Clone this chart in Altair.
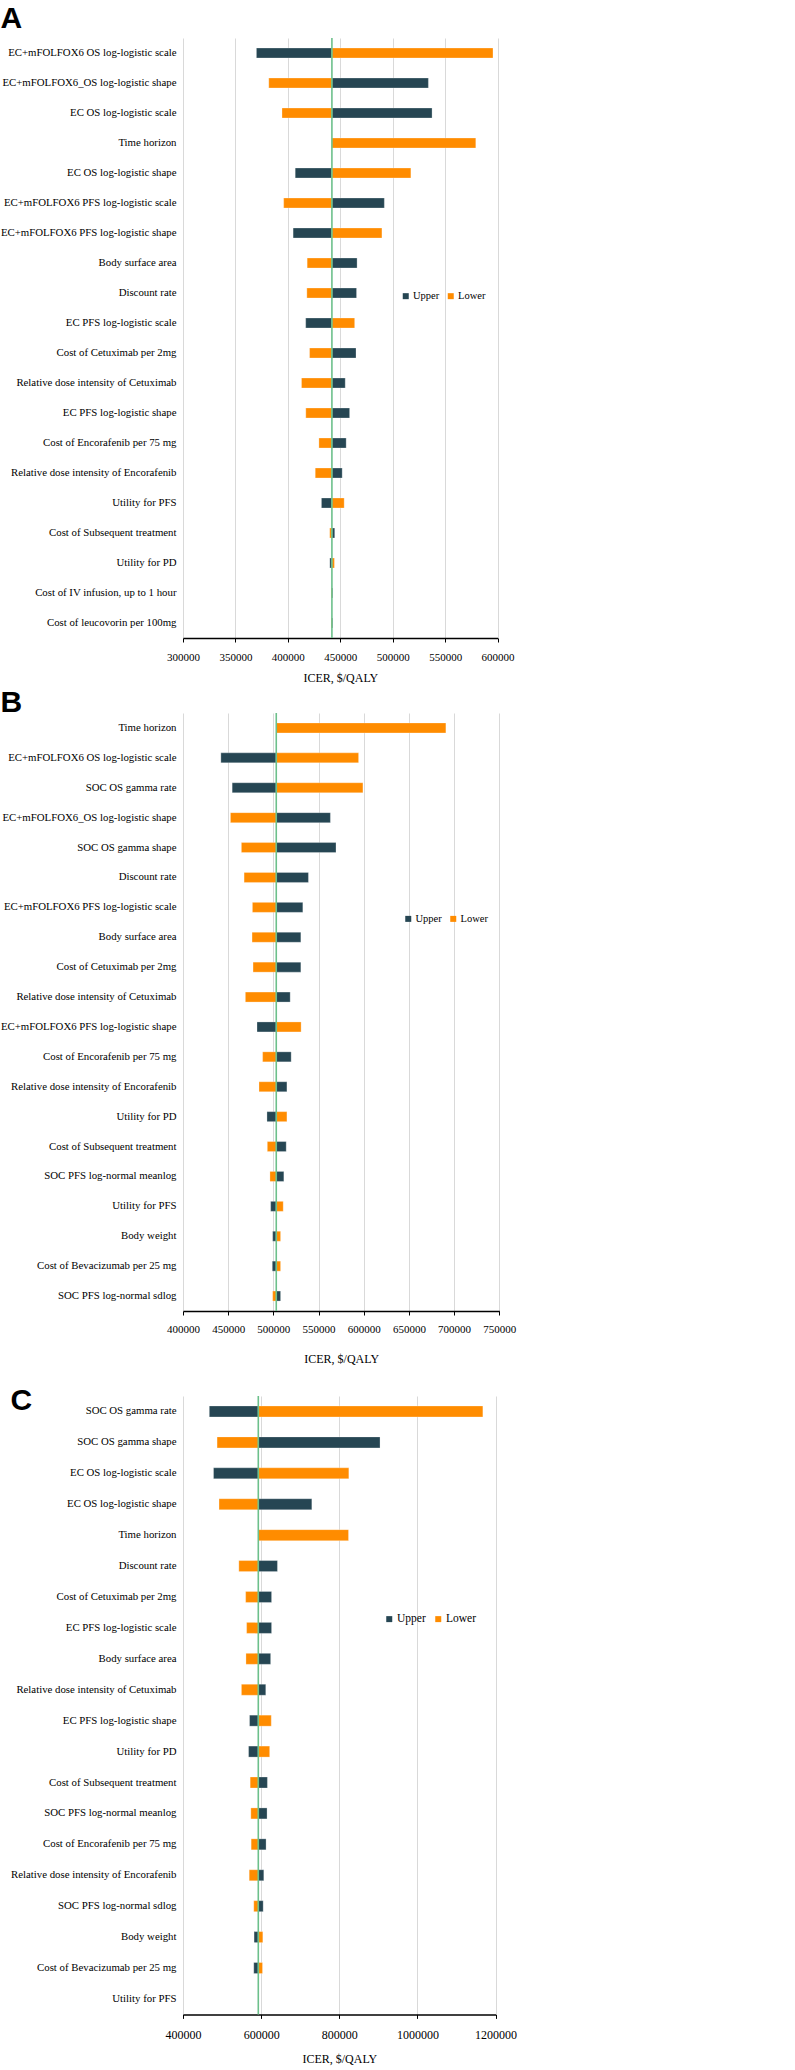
import altair as alt
import pandas as pd

# ---------------- Panel A ----------------
params_a = [
    "EC+mFOLFOX6 OS log-logistic scale", "EC+mFOLFOX6_OS log-logistic shape",
    "EC OS log-logistic scale", "Time horizon", "EC OS log-logistic shape",
    "EC+mFOLFOX6 PFS log-logistic scale", "EC+mFOLFOX6 PFS log-logistic shape",
    "Body surface area", "Discount rate", "EC PFS log-logistic scale",
    "Cost of Cetuximab per 2mg", "Relative dose intensity of Cetuximab",
    "EC PFS log-logistic shape", "Cost of Encorafenib per 75 mg",
    "Relative dose intensity of Encorafenib", "Utility for PFS",
    "Cost of Subsequent treatment", "Utility for PD",
    "Cost of IV infusion, up to 1 hour", "Cost of leucovorin per 100mg",
]
upper_a = [370000, 534000, 537500, 442000, 407000, 492000, 405000, 466000, 465500, 417000,
           465000, 454700, 458900, 455600, 451800, 432000, 444700, 440000, 442800, 442800]
lower_a = [595600, 381800, 394400, 579200, 517300, 396000, 489700, 418400, 418100, 463700,
           420700, 413000, 417100, 429600, 426100, 453700, 439900, 444400, 441200, 441200]
base_a = 442000
ticks_a = [300000, 350000, 400000, 450000, 500000, 550000, 600000]

# ---------------- Panel B ----------------
params_b = [
    "Time horizon", "EC+mFOLFOX6 OS log-logistic scale", "SOC OS gamma rate",
    "EC+mFOLFOX6_OS log-logistic shape", "SOC OS gamma shape", "Discount rate",
    "EC+mFOLFOX6 PFS log-logistic scale", "Body surface area",
    "Cost of Cetuximab per 2mg", "Relative dose intensity of Cetuximab",
    "EC+mFOLFOX6 PFS log-logistic shape", "Cost of Encorafenib per 75 mg",
    "Relative dose intensity of Encorafenib", "Utility for PD",
    "Cost of Subsequent treatment", "SOC PFS log-normal meanlog", "Utility for PFS",
    "Body weight", "Cost of Bevacizumab per 25 mg", "SOC PFS log-normal sdlog",
]
upper_b = [503200, 441900, 454400, 563100, 569300, 538800, 532600, 530400, 530400, 518600,
           481900, 519700, 515000, 492900, 514200, 511600, 497000, 499200, 498800, 508000]
lower_b = [690900, 594300, 599100, 452500, 464600, 467600, 476800, 476400, 477500, 469000,
           530700, 488100, 484100, 515000, 493300, 496200, 510900, 508000, 508000, 499200]
base_b = 503200
ticks_b = [400000, 450000, 500000, 550000, 600000, 650000, 700000, 750000]

# ---------------- Panel C ----------------
params_c = [
    "SOC OS gamma rate", "SOC OS gamma shape", "EC OS log-logistic scale",
    "EC OS log-logistic shape", "Time horizon", "Discount rate",
    "Cost of Cetuximab per 2mg", "EC PFS log-logistic scale", "Body surface area",
    "Relative dose intensity of Cetuximab", "EC PFS log-logistic shape", "Utility for PD",
    "Cost of Subsequent treatment", "SOC PFS log-normal meanlog",
    "Cost of Encorafenib per 75 mg", "Relative dose intensity of Encorafenib",
    "SOC PFS log-normal sdlog", "Body weight", "Cost of Bevacizumab per 25 mg",
    "Utility for PFS",
]
upper_c = [467300, 904200, 478100, 729700, 592700, 641700, 626700, 626700, 624300, 611800,
           570300, 567800, 616000, 615100, 612600, 606800, 605200, 581900, 581100, 592700]
lower_c = [1167400, 487200, 824400, 492200, 823600, 542900, 560300, 562800, 561100, 549500,
           625900, 621800, 571900, 573600, 574400, 569400, 581100, 604300, 603500, 592700]
base_c = 592700
ticks_c = [400000, 600000, 800000, 1000000, 1200000]

series_names = ["Upper", "Lower"]
series_colors = ["#264653", "#FF8C00"]

SERIF = "Liberation Serif"
SANS_BOLD = "Liberation Sans Narrow, Liberation Sans, Arial"


def panel(letter, params, upper, lower, base, ticks, width, height, bar_size,
          leg_x, leg_y, tick_fs, label_pad, title_pad, legend_fs,
          title_offset, title_lines=None, title_lh=None):
    rows = []
    for p, u, l in zip(params, upper, lower):
        rows.append({"param": p, "series": "Upper", "value": u, "base": base})
        rows.append({"param": p, "series": "Lower", "value": l, "base": base})
    df = pd.DataFrame(rows)

    xscale = alt.Scale(domain=[ticks[0], ticks[-1]], nice=False, zero=False)
    xaxis = alt.Axis(
        values=ticks, format="d", grid=True, gridColor="#d9d9d9", gridWidth=1,
        domainColor="#000000", domainWidth=1.5, tickColor="#000000", tickSize=4,
        labelFont=SERIF, labelFontSize=tick_fs, labelColor="#000000",
        labelPadding=label_pad, labelFlush=False,
        title="ICER, $/QALY", titleFont=SERIF, titleFontSize=12,
        titleFontWeight="normal", titleColor="#000000", titlePadding=title_pad,
    )
    yaxis = alt.Axis(
        domain=False, ticks=False, grid=False, labelFont=SERIF, labelFontSize=10.8,
        labelColor="#000000", labelPadding=7, labelLimit=400, title=None,
    )

    bars = alt.Chart(df).mark_bar(size=bar_size, stroke="#ffffff", strokeOpacity=0.35,
                                  strokeWidth=0.8).encode(
        y=alt.Y("param:N", sort=params, axis=yaxis),
        x=alt.X("value:Q", scale=xscale, axis=xaxis),
        x2="base:Q",
        color=alt.Color(
            "series:N",
            scale=alt.Scale(domain=series_names, range=series_colors),
            legend=alt.Legend(
                title=None, orient="none", direction="horizontal",
                legendX=leg_x, legendY=leg_y, symbolType="square", symbolSize=36,
                symbolStrokeWidth=0, labelFont=SERIF, labelFontSize=legend_fs,
                labelColor="#000000", columnPadding=6, labelOffset=2, padding=0,
            ),
        ),
    )
    rule = alt.Chart(pd.DataFrame({"b": [base]})).mark_rule(
        color="#6cc08b", strokeWidth=1.6).encode(x=alt.X("b:Q", scale=xscale))

    title_kw = dict(
        text=title_lines if title_lines else letter, anchor="start", frame="bounds",
        font=SANS_BOLD, fontSize=30, fontWeight="bold", color="#000000",
        offset=title_offset,
    )
    if title_lh:
        title_kw["lineHeight"] = title_lh

    return alt.layer(bars, rule).properties(
        width=width, height=height, title=alt.TitleParams(**title_kw),
    )


chart_a = panel("A", params_a, upper_a, lower_a, base_a, ticks_a, 314.6, 600, 10,
                217.5, 252.8, 11, 9.2, 10.3, 10.5, 3.4)
chart_b = panel("B", params_b, upper_b, lower_b, base_b, ticks_b, 316.3, 598, 10,
                220.0, 200.5, 11, 8.9, 18.6, 10.5, -5.6)
chart_c = panel("C", params_c, upper_c, lower_c, base_c, ticks_c, 312.6, 618.4, 11,
                200.5, 217.0, 12, 10.8, 13.7, 11.5, -21, ["", "C"], 18)

chart = alt.vconcat(chart_a, chart_b, chart_c, spacing=3).resolve_scale(
    color="independent"
).resolve_legend(color="independent").properties(
    padding={"left": 0, "top": 3, "right": 5, "bottom": 3},
    background="#ffffff",
).configure_view(stroke=None)

chart.save("out.html", embed_options={"renderer": "svg", "actions": False})
